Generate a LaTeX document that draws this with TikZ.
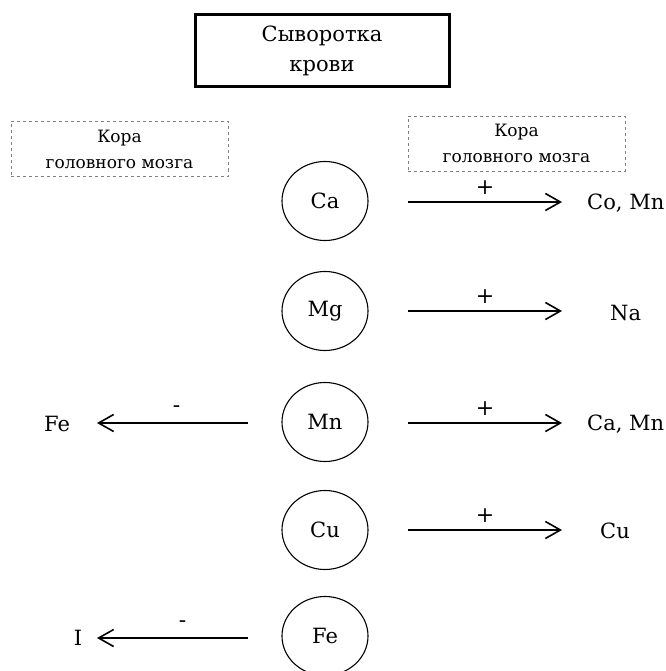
\documentclass[tikz,border=0pt]{standalone}
\usepackage{fontspec}
\setmainfont{DejaVu Serif}
\usetikzlibrary{arrows.meta,shapes.geometric}
\begin{document}
\begin{tikzpicture}[x=1pt,y=-1pt,
  elem/.style={draw, line width=1.1pt, ellipse, minimum width=86pt, minimum height=79pt, inner sep=0pt, font=\fontsize{21}{24}\selectfont},
  lbl/.style={font=\fontsize{21}{24}\selectfont, inner sep=0pt},
  cortex/.style={draw=gray, dashed, line width=0.9pt, minimum width=217pt, minimum height=55pt, align=center, font=\fontsize{17}{26}\selectfont},
  arr/.style={line width=1.8pt, -{Straight Barb[length=15pt,width=17pt,line width=1.6pt]}},
  sign/.style={font=\fontsize{22}{24}\selectfont, inner sep=0pt}
]
\useasboundingbox (0,0) rectangle (665,671);
% title box
\node[draw, line width=3pt, minimum width=254pt, minimum height=72pt, align=center, font=\fontsize{21}{30}\selectfont] (serum) at (322,51) {Сыворотка\\крови};
% cortex boxes
\node[cortex] (cortexL) at (119.5,149) {Кора\\головного мозга};
\node[cortex] (cortexR) at (516.5,143.5) {Кора\\головного мозга};
% elements
\node[elem] (ca) at (325,201) {Ca};
\node[elem] (mg) at (325,311) {Mg};
\node[elem] (mn) at (325,422) {Mn};
\node[elem] (cu) at (325,530) {Cu};
\node[elem] (fe) at (325,636) {Fe};
% right targets
\node[lbl, anchor=west] (tca) at (587,203) {Co, Mn};
\node[lbl, anchor=west] (tmg) at (610,313) {Na};
\node[lbl, anchor=west] (tmn) at (587,424) {Ca, Mn};
\node[lbl, anchor=west] (tcu) at (600,531) {Cu};
% left targets
\node[lbl] (tfe) at (57,424) {Fe};
\node[lbl] (ti) at (78,638) {I};
% arrow end coordinates
\coordinate (ca1) at (408,202); \coordinate (ca2) at (562,202);
\coordinate (mg1) at (408,311); \coordinate (mg2) at (562,311);
\coordinate (mn1) at (408,423); \coordinate (mn2) at (562,423);
\coordinate (cu1) at (408,530); \coordinate (cu2) at (562,530);
\coordinate (mnL1) at (248,423); \coordinate (mnL2) at (97,423);
\coordinate (feL1) at (248,638); \coordinate (feL2) at (97,638);
\draw[arr] (ca1) -- node[sign, above=7pt]{+} (ca2);
\draw[arr] (mg1) -- node[sign, above=7pt]{+} (mg2);
\draw[arr] (mn1) -- node[sign, above=7pt]{+} (mn2);
\draw[arr] (cu1) -- node[sign, above=7pt]{+} (cu2);
\draw[arr] (mnL1) -- node[sign, above=10pt, xshift=4pt]{-} (mnL2);
\draw[arr] (feL1) -- node[sign, above=10pt, xshift=10pt]{-} (feL2);
\end{tikzpicture}
\end{document}
